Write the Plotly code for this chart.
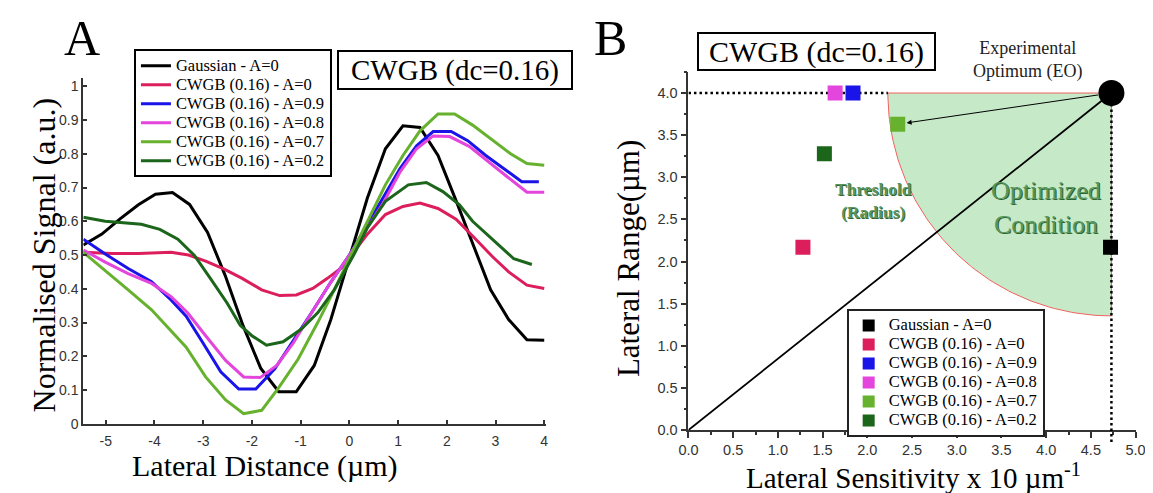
import numpy as np
import plotly.graph_objects as go

# ---------------- data ----------------
SERIES_NAMES = ["Gaussian - A=0", "CWGB (0.16) - A=0", "CWGB (0.16) - A=0.9",
                "CWGB (0.16) - A=0.8", "CWGB (0.16) - A=0.7", "CWGB (0.16) - A=0.2"]
SERIES_COLORS = ["#000000", "#dc1f5c", "#1a14e8", "#e445dc", "#66b22e", "#1b661b"]

# Panel A: lateral distance (um) vs normalised signal
gauss_x = [-5.46, -5.08, -4.70, -4.33, -3.98, -3.63, -3.28, -2.91, -2.55, -2.18, -1.82, -1.45,
           -1.09, -0.72, -0.38, -0.04, 0.37, 0.74, 1.10, 1.45, 1.82, 2.18, 2.53, 2.90, 3.27, 3.645, 4.0]
gauss_y = [0.530, 0.562, 0.608, 0.649, 0.680, 0.685, 0.650, 0.567, 0.440, 0.290, 0.165, 0.095,
           0.095, 0.173, 0.309, 0.474, 0.669, 0.815, 0.883, 0.878, 0.795, 0.665, 0.533, 0.397, 0.309, 0.249, 0.248]

cw0_x = [-5.46, -4.87, -4.33, -3.66, -3.30, -2.95, -2.58, -2.20, -1.80, -1.43, -1.09, -0.75, -0.45,
         -0.14, 0.37, 0.74, 1.10, 1.45, 1.82, 2.19, 2.56, 2.94, 3.27, 3.645, 4.0]
cw0_y = [0.508, 0.505, 0.505, 0.508, 0.500, 0.482, 0.459, 0.431, 0.397, 0.380, 0.382, 0.401, 0.431,
         0.465, 0.562, 0.620, 0.644, 0.654, 0.638, 0.606, 0.552, 0.495, 0.450, 0.411, 0.401]

cw9_x = [-5.46, -5.01, -4.54, -4.06, -3.66, -3.35, -3.01, -2.64, -2.27, -1.92, -1.53, -1.15, -0.75,
         -0.38, 0.0, 0.37, 0.70, 1.04, 1.38, 1.72, 2.09, 2.43, 2.80, 3.17, 3.54, 3.89]
cw9_y = [0.547, 0.503, 0.460, 0.421, 0.367, 0.319, 0.241, 0.154, 0.103, 0.103, 0.163, 0.245, 0.335,
         0.420, 0.500, 0.590, 0.670, 0.756, 0.824, 0.866, 0.866, 0.839, 0.795, 0.756, 0.717, 0.717]

cw8_x = [-5.46, -5.01, -4.54, -4.06, -3.66, -3.32, -2.95, -2.54, -2.17, -1.83, -1.49, -1.15, -0.75,
         -0.38, 0.0, 0.37, 0.70, 1.04, 1.38, 1.72, 2.06, 2.46, 2.87, 3.24, 3.645, 4.0]
cw8_y = [0.515, 0.479, 0.445, 0.416, 0.377, 0.329, 0.261, 0.188, 0.139, 0.137, 0.173, 0.240, 0.335,
         0.420, 0.500, 0.580, 0.655, 0.746, 0.815, 0.853, 0.851, 0.822, 0.776, 0.732, 0.686, 0.686]

cw7_x = [-5.46, -5.01, -4.54, -4.06, -3.66, -3.35, -2.95, -2.54, -2.17, -1.80, -1.46, -1.05, -0.65,
         -0.31, 0.03, 0.37, 0.74, 1.10, 1.45, 1.82, 2.16, 2.53, 2.94, 3.31, 3.645, 4.0]
cw7_y = [0.508, 0.455, 0.397, 0.338, 0.275, 0.227, 0.139, 0.071, 0.030, 0.040, 0.105, 0.192, 0.300,
         0.397, 0.500, 0.600, 0.708, 0.795, 0.868, 0.918, 0.918, 0.885, 0.839, 0.800, 0.771, 0.766]

cw2_x = [-5.46, -5.01, -4.27, -3.89, -3.52, -3.18, -2.85, -2.51, -2.24, -2.00, -1.70, -1.36, -0.99,
         -0.65, -0.31, 0.10, 0.37, 0.74, 1.21, 1.58, 1.92, 2.26, 2.53, 2.97, 3.375, 3.746]
cw2_y = [0.612, 0.600, 0.591, 0.576, 0.547, 0.499, 0.430, 0.358, 0.292, 0.261, 0.233, 0.243, 0.280,
         0.329, 0.397, 0.503, 0.581, 0.659, 0.708, 0.715, 0.688, 0.649, 0.600, 0.542, 0.489, 0.472]

PROFILES_X = [gauss_x, cw0_x, cw9_x, cw8_x, cw7_x, cw2_x]
PROFILES_Y = [gauss_y, cw0_y, cw9_y, cw8_y, cw7_y, cw2_y]

A_XTICKS = [-5, -4, -3, -2, -1, 0, 1, 2, 3, 4]
A_XTICKTEXT = ["-5", "-4", "-3", "-2", "-1", "0", "1", "2", "3", "4"]
A_YTICKS = [0, 0.1, 0.2, 0.3, 0.4, 0.5, 0.6, 0.7, 0.8, 0.9, 1.0]
A_YTICKTEXT = ["0", "0.1", "0.2", "0.3", "0.4", "0.5", "0.6", "0.7", "0.8", "0.9", "1"]

# Panel B: lateral sensitivity (x10 um^-1) vs lateral range (um)
SENSITIVITY = [4.72, 1.28, 1.84, 1.64, 2.34, 1.52]
LAT_RANGE = [2.17, 2.17, 4.00, 4.00, 3.63, 3.28]
EO_SENS = 4.73
EO_RANGE = 4.00
THRESH_RX = 2.50
THRESH_RY = 2.645

B_XTICKS = [0, 0.5, 1.0, 1.5, 2.0, 2.5, 3.0, 3.5, 4.0, 4.5, 5.0]
B_YTICKS = [0, 0.5, 1.0, 1.5, 2.0, 2.5, 3.0, 3.5, 4.0]

# ---------------- styling ----------------
SERIF = "Liberation Serif, Times New Roman, serif"
SANS = "Liberation Sans, Arial, sans-serif"
W, H = 1153, 493
A_XRANGE = [-5.46, 4.03]
A_YRANGE = [0, 1.025]
B_XRANGE = [0, 5.0]
B_YRANGE = [0, 4.25]

def legend_label(name):
    return "<span style='font-size:16.5px'>" + name + "</span>"

fig = go.Figure()

# Panel A lines
for name, color, xs, ys in zip(SERIES_NAMES, SERIES_COLORS, PROFILES_X, PROFILES_Y):
    fig.add_trace(go.Scatter(x=xs, y=ys, mode="lines", name=legend_label(name),
                             line=dict(color=color, width=3), xaxis="x", yaxis="y",
                             legend="legend", hoverinfo="x+y"))

# Panel B: optimized region (sector around experimental optimum)
t = np.linspace(np.pi, 1.5 * np.pi, 80)
sec_x = [EO_SENS] + list(EO_SENS + THRESH_RX * np.cos(t)) + [EO_SENS]
sec_y = [EO_RANGE] + list(EO_RANGE + THRESH_RY * np.sin(t)) + [EO_RANGE]
fig.add_trace(go.Scatter(x=sec_x, y=sec_y, mode="lines", fill="toself",
                         fillcolor="#c6eac8", line=dict(color="#f06060", width=1),
                         xaxis="x2", yaxis="y2", showlegend=False, hoverinfo="skip"))

# dotted horizontal guide at EO range
fig.add_trace(go.Scatter(x=[0, EO_SENS - THRESH_RX], y=[EO_RANGE, EO_RANGE], mode="lines",
                         line=dict(color="black", width=2.5, dash="2.5px,3px"),
                         xaxis="x2", yaxis="y2", showlegend=False, hoverinfo="skip"))

# diagonal from origin to EO
fig.add_trace(go.Scatter(x=[0, EO_SENS], y=[0, EO_RANGE], mode="lines",
                         line=dict(color="black", width=1.8),
                         xaxis="x2", yaxis="y2", showlegend=False, hoverinfo="skip"))

# data points
for name, color, sx, sy in zip(SERIES_NAMES, SERIES_COLORS, SENSITIVITY, LAT_RANGE):
    fig.add_trace(go.Scatter(x=[sx], y=[sy], mode="markers", name=legend_label(name),
                             marker=dict(symbol="square", size=15, color=color,
                                         line=dict(width=0)),
                             xaxis="x2", yaxis="y2", legend="legend2"))

# experimental optimum
fig.add_trace(go.Scatter(x=[EO_SENS], y=[EO_RANGE], mode="markers",
                         marker=dict(symbol="circle", size=26, color="black"),
                         xaxis="x2", yaxis="y2", showlegend=False, cliponaxis=False))

axis_common = dict(showgrid=False, zeroline=False, showline=True, mirror=False)

fig.update_layout(
    width=W, height=H,
    margin=dict(l=0, r=0, t=0, b=0),
    paper_bgcolor="white", plot_bgcolor="white",
    showlegend=True,
    xaxis=dict(domain=[66.5 / W, 537 / W], range=A_XRANGE, anchor="y",
               tickvals=A_XTICKS, ticktext=A_XTICKTEXT,
               ticks="inside", ticklen=4, tickwidth=1.5, tickcolor="#333",
               linecolor="#333", linewidth=2, ticklabelstandoff=3,
               tickfont=dict(family=SANS, size=14, color="#333"), **axis_common),
    yaxis=dict(domain=[1 - 422.7 / H, 1 - 71 / H], range=A_YRANGE, anchor="x",
               tickvals=A_YTICKS, ticktext=A_YTICKTEXT,
               ticks="inside", ticklen=4, tickwidth=1.5, tickcolor="#333",
               linecolor="#333", linewidth=2,
               tickfont=dict(family=SANS, size=14, color="#333"), **axis_common),
    xaxis2=dict(domain=[682.3 / W, 1137.3 / W], range=B_XRANGE, anchor="y2",
                tickvals=B_XTICKS, tickformat=".1f",
                ticks="outside", ticklen=6, tickwidth=1.5, tickcolor="#333",
                minor=dict(dtick=0.25, ticks="outside", ticklen=3, tickcolor="#333", tickwidth=1.5),
                linecolor="#333", linewidth=1.8, ticklabelstandoff=0,
                tickfont=dict(family=SANS, size=14.5, color="#333"), **axis_common),
    yaxis2=dict(domain=[1 - 429 / H, 1 - 65 / H], range=B_YRANGE, anchor="x2",
                tickvals=B_YTICKS, tickformat=".1f",
                ticks="outside", ticklen=6, tickwidth=1.5, tickcolor="#333",
                minor=dict(dtick=0.25, ticks="outside", ticklen=3, tickcolor="#333", tickwidth=1.5),
                linecolor="#333", linewidth=1.8,
                tickfont=dict(family=SANS, size=14.5, color="#333"), **axis_common),
    legend=dict(x=118 / W, y=1 - 42 / H, xanchor="left", yanchor="top",
                bordercolor="black", borderwidth=2, bgcolor="white",
                font=dict(family=SERIF, size=12, color="black"),
                traceorder="normal", tracegroupgap=0, itemwidth=30),
    legend2=dict(x=843.3 / W, y=1 - 306 / H, xanchor="left", yanchor="top",
                 bordercolor="#222", borderwidth=2, bgcolor="white",
                 font=dict(family=SERIF, size=12, color="black"),
                 traceorder="normal", tracegroupgap=0, itemsizing="constant", itemwidth=30),
)

# dotted vertical guide at EO sensitivity, running just past the x axis
fig.add_shape(type="line", xref="x2", yref="y2 domain",
              x0=EO_SENS, x1=EO_SENS, y0=EO_RANGE / B_YRANGE[1], y1=-0.04,
              line=dict(color="black", width=2.5, dash="2.5px,3px"))

annotations = [
    # panel letters
    dict(text="A", x=65 / W, y=1 - 30 / H, xref="paper", yref="paper", showarrow=False,
         font=dict(family=SERIF, size=50, color="black"), xanchor="center", yanchor="middle"),
    dict(text="B", x=603 / W, y=1 - 30 / H, xref="paper", yref="paper", showarrow=False,
         font=dict(family=SERIF, size=50, color="black"), xanchor="center", yanchor="middle"),
    # boxed titles
    dict(text="CWGB (dc=0.16)", x=444.4 / W, y=1 - 62.7 / H, xref="paper", yref="paper",
         showarrow=False, font=dict(family=SERIF, size=29, color="black"),
         bordercolor="black", borderwidth=2, borderpad=1, bgcolor="white",
         width=230, height=34, xanchor="center", yanchor="middle"),
    dict(text="CWGB (dc=0.16)", x=812.8 / W, y=1 - 44.7 / H, xref="paper", yref="paper",
         showarrow=False, font=dict(family=SERIF, size=30, color="black"),
         bordercolor="black", borderwidth=2, borderpad=1, bgcolor="white",
         width=233, height=33, xanchor="center", yanchor="middle"),
    # axis titles
    dict(text="Lateral Distance (µm)", x=251 / W, y=1 - 466 / H, xref="paper", yref="paper",
         showarrow=False, font=dict(family=SERIF, size=30, color="black"),
         xanchor="center", yanchor="middle"),
    dict(text="Normalised Signal (a.u.)", x=26 / W, y=1 - 251 / H, xref="paper", yref="paper",
         showarrow=False, textangle=-90, font=dict(family=SERIF, size=32, color="black"),
         xanchor="center", yanchor="middle"),
    dict(text="Lateral Sensitivity x 10 µm<sup>-1</sup>", x=911 / W, y=1 - 476 / H,
         xref="paper", yref="paper", showarrow=False,
         font=dict(family=SERIF, size=29, color="black"), xanchor="center", yanchor="middle"),
    dict(text="Lateral Range(µm)", x=622 / W, y=1 - 255 / H, xref="paper", yref="paper",
         showarrow=False, textangle=-90, font=dict(family=SERIF, size=31, color="black"),
         xanchor="center", yanchor="middle"),
    # panel B labels
    dict(text="Experimental<br>Optimum (EO)", x=EO_SENS, y=EO_RANGE, xref="x2", yref="y2",
         xshift=-83, yshift=33, showarrow=False,
         font=dict(family=SERIF, size=18, color="#222"), xanchor="center", yanchor="middle"),
    dict(text="<b>Threshold<br>(Radius)</b>", x=2.07, y=2.72, xref="x2", yref="y2",
         showarrow=False,
         font=dict(family=SERIF, size=17.5, color="#5a955d", shadow="0.8px 0.8px 0px #2f6332"),
         xanchor="center", yanchor="middle"),
    dict(text="Optimized<br>Condition", x=4.0, y=2.64, xref="x2", yref="y2",
         showarrow=False,
         font=dict(family=SERIF, size=26, color="#58975b", shadow="1px 1px 0px #2f6332"),
         xanchor="center", yanchor="middle"),
    # arrow from EO to the A=0.7 point
    dict(text="", x=SENSITIVITY[4], y=LAT_RANGE[4], ax=EO_SENS, ay=EO_RANGE,
         xref="x2", yref="y2", axref="x2", ayref="y2", showarrow=True,
         arrowhead=2, arrowsize=1, arrowwidth=1, arrowcolor="black",
         standoff=9, startstandoff=12),
]
fig.update_layout(annotations=annotations)

fig.write_html("out.html")
